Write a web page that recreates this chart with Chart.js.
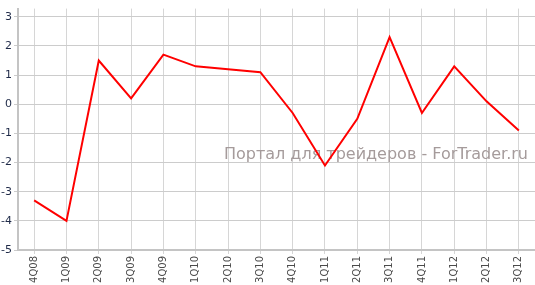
<!DOCTYPE html>
<html>
<head>
<meta charset="utf-8">
<script src="https://cdn.jsdelivr.net/npm/chart.js@4.4.0/dist/chart.umd.min.js"></script>
<style>
  html, body { margin: 0; padding: 0; background: #fff; }
  #wrap { width: 535px; height: 285px; }
</style>
</head>
<body>
<div id="wrap"><canvas id="qChart" width="535" height="285"></canvas></div>
<script>
// quarterly values
const quarters = ['4Q08', '1Q09', '2Q09', '3Q09', '4Q09', '1Q10', '2Q10', '3Q10',
                  '4Q10', '1Q11', '2Q11', '3Q11', '4Q11', '1Q12', '2Q12', '3Q12'];
const values = [-3.3, -4.0, 1.5, 0.2, 1.7, 1.3, 1.2, 1.1,
                -0.3, -2.1, -0.5, 2.3, -0.3, 1.3, 0.1, -0.9];
const yMin = -5;
const yMax = 3;
const watermark = 'Портал для трейдеров - ForTrader.ru';

// watermark behind the line
const watermarkPlugin = {
  id: 'watermark',
  beforeDatasetsDraw(chart) {
    const ctx = chart.ctx;
    ctx.save();
    ctx.font = '16px "DejaVu Sans"';
    ctx.fillStyle = '#a59b9b';
    ctx.textAlign = 'right';
    ctx.textBaseline = 'alphabetic';
    ctx.fillText(watermark, 528, 159);
    ctx.restore();
  }
};

const ctx = document.getElementById('qChart').getContext('2d');
new Chart(ctx, {
  type: 'line',
  data: {
    labels: quarters,
    datasets: [{
      data: values,
      borderColor: '#ff0000',
      borderWidth: 2,
      pointRadius: 0,
      tension: 0,
      fill: false
    }]
  },
  options: {
    responsive: false,
    animation: false,
    layout: { padding: { top: 3, right: -2, bottom: 0, left: 0 } },
    plugins: {
      legend: { display: false },
      tooltip: { enabled: false }
    },
    scales: {
      x: {
        offset: true,
        grid: { color: '#d6d6d6', lineWidth: 1, tickLength: 4, offset: false },
        border: { color: '#c4c4c4', width: 2 },
        ticks: {
          autoSkip: false,
          minRotation: 90,
          maxRotation: 90,
          padding: 2,
          color: '#4a4a4a',
          font: { family: 'DejaVu Sans', size: 10 }
        },
        afterFit(scale) { scale.height = 35; }
      },
      y: {
        min: yMin,
        max: yMax + 0.28,
        grid: { color: '#cccccc', lineWidth: 1, tickLength: 4 },
        border: { color: '#c4c4c4', width: 2 },
        ticks: {
          padding: 2,
          color: '#1f2a48',
          font: { family: 'DejaVu Sans', size: 11 }
        },
        afterBuildTicks(scale) {
          // whole numbers only, the top of the plot sits a bit above 3
          const ticks = [];
          for (let v = yMin; v <= yMax; v++) ticks.push({ value: v });
          scale.ticks = ticks;
        },
        afterFit(scale) { scale.width = 18; }
      }
    }
  },
  plugins: [watermarkPlugin]
});
</script>
</body>
</html>
